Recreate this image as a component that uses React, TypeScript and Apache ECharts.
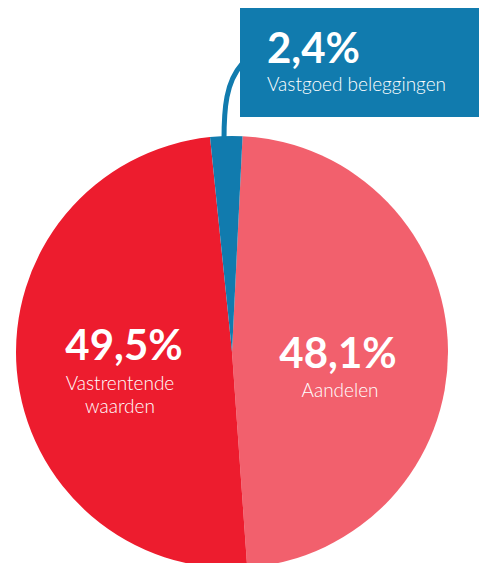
import React, { useEffect, useRef } from "react";
import * as echarts from "echarts";

const categories = ["Aandelen", "Vastrentende waarden", "Vastgoed beleggingen"];
const values = [48.1, 49.5, 2.4];
const colors = ["#F2606D", "#ED1C2E", "#117BAE"];
const labelLines = [["Aandelen"], ["Vastrentende", "waarden"], ["Vastgoed beleggingen"]];

const fmt = (v: number) => v.toFixed(1).replace(".", ",") + "%";
const FONT = "Lato, 'Open Sans', sans-serif";

export default function App() {
  const ref = useRef<HTMLDivElement>(null);
  useEffect(() => {
    if (!ref.current) return;
    const chart = echarts.init(ref.current, null, { renderer: "svg" });
    const white = "#ffffff";
    const big = (text: string, x: number, y: number, align: string) => ({
      type: "text",
      x,
      y,
      style: { text, fill: white, font: `bold 42px ${FONT}`, align, verticalAlign: "middle" },
      z: 11,
    });
    const small = (text: string, x: number, y: number, align: string) => ({
      type: "text",
      x,
      y,
      style: { text, fill: white, font: `300 19px ${FONT}`, align, verticalAlign: "middle" },
      z: 11,
    });
    const graphic: any[] = [
      {
        type: "rect",
        shape: { x: 240, y: 8, width: 250, height: 109 },
        style: { fill: colors[2] },
        silent: true,
        z: 10,
      },
      {
        type: "bezierCurve",
        shape: { x1: 242, y1: 64, cpx1: 226, cpy1: 82, cpx2: 224, cpy2: 108, x2: 224, y2: 140 },
        style: { stroke: colors[2], lineWidth: 5, fill: "none" },
        silent: true,
        z: 9,
      },
      big(fmt(values[2]), 267, 47, "left"),
      small(labelLines[2][0], 267, 83, "left"),
      big(fmt(values[1]), 124, 344, "center"),
      small(labelLines[1][0], 120, 382, "center"),
      small(labelLines[1][1], 120, 405, "center"),
      big(fmt(values[0]), 338, 352, "center"),
      small(labelLines[0][0], 340, 389, "center"),
    ];
    chart.setOption({
      animation: false,
      backgroundColor: "#ffffff",
      series: [
        {
          type: "pie",
          center: [232, 352],
          radius: 216,
          startAngle: 87.2,
          clockwise: true,
          silent: true,
          label: { show: false },
          labelLine: { show: false },
          itemStyle: { borderWidth: 0 },
          data: categories.map((name, i) => ({ name, value: values[i], itemStyle: { color: colors[i] } })),
        },
      ],
      graphic,
    });
    return () => chart.dispose();
  }, []);
  return <div ref={ref} style={{ position: "absolute", left: 0, top: 0, width: 479, height: 563 }} />;
}
